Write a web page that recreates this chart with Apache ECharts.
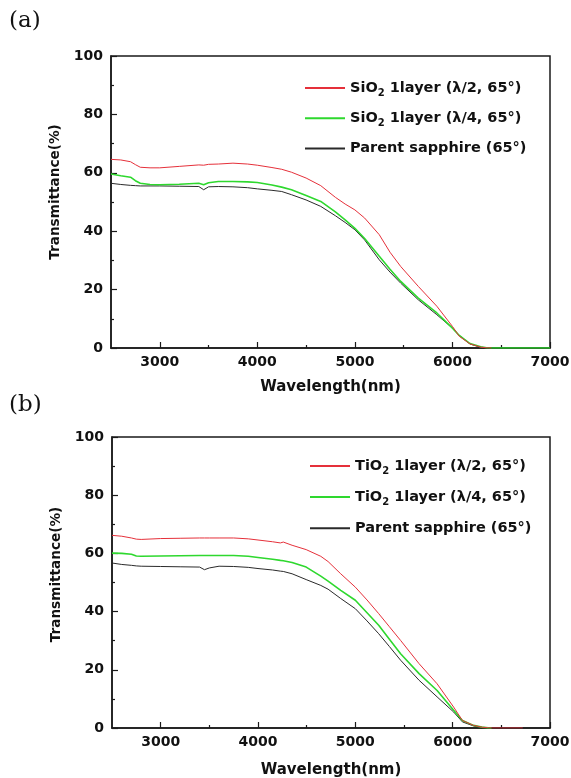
<!DOCTYPE html>
<html>
<head>
<meta charset="utf-8">
<script src="https://cdn.jsdelivr.net/npm/echarts@6/dist/echarts.min.js"></script>
<style>
html,body{margin:0;padding:0;background:#fff;}
#wrap{position:relative;width:571px;height:778px;background:#fff;}
#a{position:absolute;left:0;top:0;width:571px;height:400px;}
#b{position:absolute;left:0;top:389px;width:571px;height:389px;}
</style>
</head>
<body>
<div id="wrap">
<div id="a"></div>
<div id="b"></div>
</div>
<script>
// ---------- data ----------
const xTickLabels = [3000, 4000, 5000, 6000, 7000];
const xMinorTicks = [3500, 4500, 5500, 6500];
const yTicks = [0, 20, 40, 60, 80, 100];

const namesA = ['SiO2 1layer (λ/2, 65°)', 'SiO2 1layer (λ/4, 65°)', 'Parent sapphire (65°)'];
const namesB = ['TiO2 1layer (λ/2, 65°)', 'TiO2 1layer (λ/4, 65°)', 'Parent sapphire (65°)'];

const wlA = [2500, 2600, 2700, 2750, 2800, 2900, 3000, 3200, 3400, 3450, 3500, 3600, 3750, 3900, 4000, 4150, 4250, 4350, 4500, 4650, 4800, 4900, 5000, 5100, 5250, 5360, 5470, 5650, 5840, 6000, 6070, 6180, 6290, 6350, 6400, 7000];
const redA = [64.6, 64.4, 63.8, 62.8, 61.9, 61.7, 61.7, 62.2, 62.7, 62.6, 62.9, 63.0, 63.3, 63.0, 62.6, 61.8, 61.2, 60.2, 58.2, 55.6, 51.6, 49.3, 47.3, 44.5, 38.8, 32.8, 27.9, 21.1, 14.3, 7.4, 4.0, 1.4, 0.3, 0.05, 0, null];
const greenA = [59.6, 59.0, 58.5, 57.3, 56.4, 56.0, 55.9, 56.1, 56.4, 55.9, 56.6, 57.0, 57.0, 56.9, 56.7, 55.8, 55.1, 54.2, 52.2, 50.2, 46.6, 43.9, 41.0, 37.5, 31.4, 27.0, 22.8, 17.1, 12.0, 6.8, 4.3, 1.5, 0.4, 0.1, 0, 0];
const blackA = [56.4, 56.0, 55.7, 55.6, 55.5, 55.5, 55.5, 55.4, 55.3, 54.2, 55.2, 55.3, 55.2, 54.9, 54.5, 54.0, 53.6, 52.5, 50.7, 48.5, 45.3, 43.0, 40.5, 37.0, 30.2, 26.0, 22.2, 16.5, 11.4, 6.8, 4.3, 1.4, 0.2, 0, null, null];

const wlB = [2500, 2600, 2700, 2750, 2800, 3000, 3200, 3400, 3450, 3500, 3600, 3750, 3900, 4000, 4150, 4230, 4260, 4350, 4495, 4645, 4720, 4850, 5000, 5120, 5240, 5350, 5465, 5655, 5840, 6010, 6100, 6215, 6300, 6365, 6400, 6720];
const redB = [66.2, 65.9, 65.3, 64.9, 64.8, 65.1, 65.2, 65.3, 65.3, 65.3, 65.3, 65.3, 65.0, 64.6, 64.0, 63.6, 63.9, 62.8, 61.3, 59.0, 57.2, 53.0, 48.4, 44.0, 39.3, 34.8, 30.1, 22.1, 15.2, 7.2, 2.6, 0.9, 0.3, 0.05, 0, 0];
const greenB = [60.1, 60.0, 59.7, 59.1, 59.0, 59.1, 59.2, 59.3, 59.3, 59.3, 59.3, 59.3, 59.0, 58.6, 58.0, 57.6, 57.5, 56.9, 55.3, 52.2, 50.5, 47.3, 43.9, 39.6, 35.3, 30.5, 25.5, 18.7, 12.9, 6.1, 2.6, 0.9, 0.3, 0.05, 0, null];
const blackB = [56.7, 56.2, 55.9, 55.7, 55.6, 55.5, 55.4, 55.3, 54.4, 55.0, 55.6, 55.5, 55.2, 54.8, 54.3, 53.9, 53.8, 53.0, 51.0, 49.0, 47.7, 44.5, 41.0, 36.8, 32.4, 28.0, 23.3, 16.4, 10.7, 5.5, 2.1, 0.7, 0.1, 0, null, null];

// ---------- chart ----------
const COLORS = ['#e5303a', '#2ed82e', '#2a2a2a'];
const WIDTHS = [1, 1.6, 1];
const FONT = 'DejaVu Sans';

function pairs(xs, ys) { return xs.map((x, i) => [x, ys[i]]); }

function makeOption(cfg) {
  const series = cfg.names.map((n, i) => ({
    name: n,
    type: 'line',
    xAxisIndex: 0,
    yAxisIndex: 0,
    data: pairs(cfg.wl, cfg.vals[i]),
    showSymbol: false,
    symbol: 'none',
    connectNulls: false,
    animation: false,
    z: 5 - i,
    lineStyle: { color: COLORS[i], width: WIDTHS[i] },
    itemStyle: { color: COLORS[i] }
  }));
  return {
    animation: false,
    backgroundColor: 'transparent',
    grid: {
      left: cfg.grid.left, right: cfg.grid.right, top: cfg.grid.top, bottom: cfg.grid.bottom,
      outerBoundsMode: 'none', containLabel: false,
      show: true, borderColor: '#1a1a1a', borderWidth: 1.5, backgroundColor: 'transparent'
    },
    graphic: [{
      type: 'text', left: 9, top: cfg.tagTop,
      style: { text: cfg.tag, font: '23px "DejaVu Serif"', fill: '#111' }
    }],
    legend: {
      orient: 'vertical',
      left: cfg.legend.left, top: cfg.legend.top,
      padding: 0,
      itemGap: cfg.legend.gap,
      itemWidth: 40, itemHeight: 2,
      icon: 'rect',
      selectedMode: false,
      data: cfg.names,
      formatter: function (name) {
        return name.replace('O2', 'O{sub|2}');
      },
      textStyle: {
        fontFamily: FONT, fontWeight: 'bold', fontSize: 14.5, color: '#111', lineHeight: 20,
        rich: {
          sub: { fontFamily: FONT, fontWeight: 'bold', fontSize: 10, color: '#111', lineHeight: 12, padding: [10, 0, 0, 0] }
        }
      }
    },
    xAxis: [{
      type: 'value', min: 2500, max: 7000, position: 'bottom',
      name: 'Wavelength(nm)', nameLocation: 'middle', nameGap: cfg.xNameGap,
      nameTextStyle: { fontFamily: FONT, fontWeight: 'bold', fontSize: 15, color: '#111' },
      axisLine: { show: true, onZero: false, lineStyle: { color: '#1a1a1a', width: 1.5 } },
      axisTick: { show: true, inside: true, length: 6, customValues: xTickLabels, lineStyle: { color: '#1a1a1a', width: 1.2 } },
      axisLabel: { show: true, customValues: xTickLabels, margin: 7, fontFamily: FONT, fontWeight: 'bold', fontSize: 14, color: '#111',
        formatter: function (v) { return String(v); } },
      splitLine: { show: false }
    }, {
      type: 'value', min: 2500, max: 7000, position: 'bottom', gridIndex: 0,
      axisLine: { show: false },
      axisTick: { show: true, inside: true, length: 3, customValues: xMinorTicks, lineStyle: { color: '#1a1a1a', width: 1.2 } },
      axisLabel: { show: false },
      splitLine: { show: false }
    }],
    yAxis: [{
      type: 'value', min: 0, max: 100, interval: 20,
      name: 'Transmittance(%)', nameLocation: 'middle', nameGap: 43,
      nameTextStyle: { fontFamily: FONT, fontWeight: 'bold', fontSize: 13.6, color: '#111', padding: cfg.yNamePad },
      axisLine: { show: true, onZero: false, lineStyle: { color: '#1a1a1a', width: 1.5 } },
      axisTick: { show: true, inside: true, length: 6, lineStyle: { color: '#1a1a1a', width: 1.2 } },
      minorTick: { show: true, splitNumber: 2, length: 3, lineStyle: { color: '#1a1a1a', width: 1.2 } },
      axisLabel: { show: true, margin: 8, fontFamily: FONT, fontWeight: 'bold', fontSize: 14, color: '#111',
        customValues: yTicks, formatter: function (v) { return String(v); } },
      splitLine: { show: false }
    }],
    series: series
  };
}

const chartA = echarts.init(document.getElementById('a'), null, { renderer: 'canvas' });
chartA.setOption(makeOption({
  tag: '(a)', tagTop: 10,
  names: namesA, wl: wlA, vals: [redA, greenA, blackA],
  grid: { left: 111, right: 21, top: 56, bottom: 52 },
  legend: { left: 305, top: 78, gap: 10.2 },
  xNameGap: 32, yNamePad: [0, 0, 0, 20]
}));

const chartB = echarts.init(document.getElementById('b'), null, { renderer: 'canvas' });
chartB.setOption(makeOption({
  tag: '(b)', tagTop: 5,
  names: namesB, wl: wlB, vals: [redB, greenB, blackB],
  grid: { left: 112, right: 21, top: 48, bottom: 50 },
  legend: { left: 310, top: 67, gap: 11.1 },
  xNameGap: 35, yNamePad: [0, 0, 0, 16]
}));
</script>
</body>
</html>
